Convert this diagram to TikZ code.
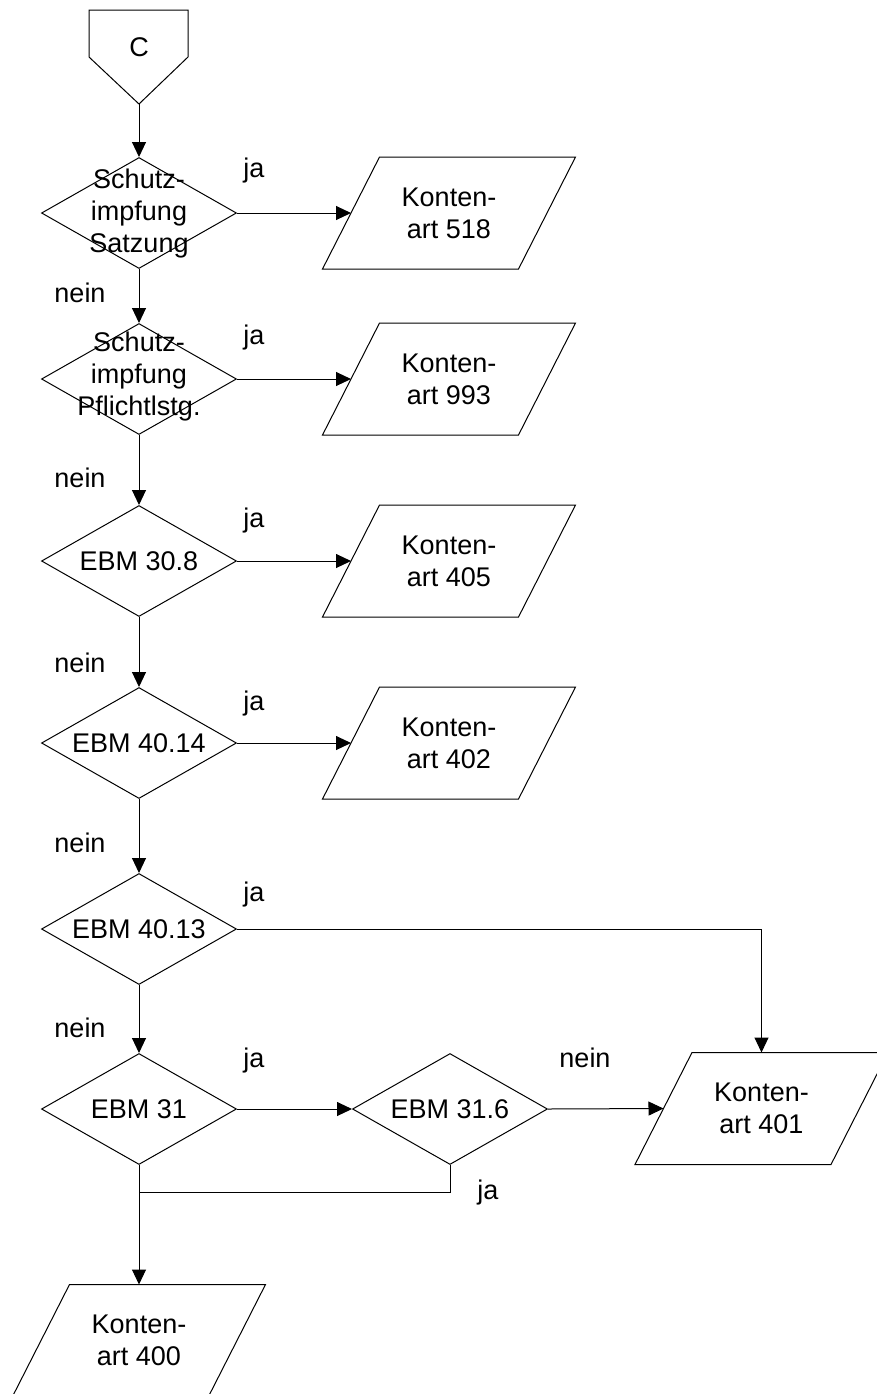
\documentclass[tikz,border=0pt]{standalone}
\usepackage{fontspec}
\setmainfont{Liberation Sans}
\usetikzlibrary{shapes.geometric,arrows.meta}
\begin{document}
\begin{tikzpicture}[x=0.5pt,y=-0.5pt,
  font=\fontsize{13.5pt}{16pt}\selectfont,
  line width=0.5pt,
  dec/.style={draw, diamond, minimum width=97.5pt, minimum height=55.5pt, inner sep=0pt},
  dtext/.style={align=center, inner sep=0pt},
  kbox/.style={minimum width=97.5pt, minimum height=55.5pt, inner sep=0pt, align=center},
  arr/.style={-{Triangle[length=7.5pt,width=7pt]}},
  lbl/.style={anchor=base, inner sep=0pt}]
\useasboundingbox (0,0) rectangle (877,1394);

% connector C
\coordinate (pnw) at (89,10);
\coordinate (pne) at (188,10);
\coordinate (pse) at (188,57);
\coordinate (psw) at (89,57);
\coordinate (cp) at (139,104);
\draw (psw) -- (pnw) -- (pne) -- (pse) -- (cp) -- cycle;
\node[inner sep=0pt] (c) at (139,47) {C};

% decisions
\node[dec] (d1) at (139,213) {};
\node[dtext] (d1t) at (139,214) {Schutz-\\impfung\\Satzung};
\node[dec] (d2) at (139,379) {};
\node[dtext] (d2t) at (139,377) {Schutz-\\impfung\\Pflichtlstg.};
\node[dec] (d3) at (139,561) {};
\node[dtext] (d3t) at (139,561) {EBM 30.8};
\node[dec] (d4) at (139,743) {};
\node[dtext] (d4t) at (139,743) {EBM 40.14};
\node[dec] (d5) at (139,929) {};
\node[dtext] (d5t) at (139,929) {EBM 40.13};
\node[dec] (d6) at (139,1109) {};
\node[dtext] (d6t) at (139,1109) {EBM 31};
\node[dec] (d7) at (450,1109) {};
\node[dtext] (d7t) at (450,1109) {EBM 31.6};

% outputs
\node[kbox] (k1) at (449,213) {Konten-\\art 518};
\node[kbox] (k2) at (449,379) {Konten-\\art 993};
\node[kbox] (k3) at (449,561) {Konten-\\art 405};
\node[kbox] (k4) at (449,743) {Konten-\\art 402};
\node[kbox] (k401) at (761.5,1108.5) {Konten-\\art 401};
\node[kbox] (k400) at (139,1340.5) {Konten-\\art 400};
\foreach \n in {k1,k2,k3,k4,k401,k400}
  \draw ([xshift=14.25pt]\n.north west) -- ([xshift=14.25pt]\n.north east)
     -- ([xshift=-14.25pt]\n.south east) -- ([xshift=-14.25pt]\n.south west) -- cycle;

% connectors
\draw[arr] (cp) -- (d1.north);
\draw[arr] (d1.south) -- (d2.north);
\draw[arr] (d2.south) -- (d3.north);
\draw[arr] (d3.south) -- (d4.north);
\draw[arr] (d4.south) -- (d5.north);
\draw[arr] (d5.south) -- (d6.north);
\draw[arr] (d1.east) -- (k1.west);
\draw[arr] (d2.east) -- (k2.west);
\draw[arr] (d3.east) -- (k3.west);
\draw[arr] (d4.east) -- (k4.west);
\draw[arr] (d5.east) -| (k401.north);
\draw[arr] (d6.east) -- (d7.west);
\draw[arr] (d7.east) -- (k401.west);
\coordinate (j) at (139,1192);
\draw (d7.south) |- (j);
\draw[arr] (d6.south) -- (k400.north);

% labels
\node[lbl] (ja1) at (254,177) {ja};
\node[lbl] (ja2) at (254,344) {ja};
\node[lbl] (ja3) at (254,527) {ja};
\node[lbl] (ja4) at (254,710) {ja};
\node[lbl] (ja5) at (254,901) {ja};
\node[lbl] (ja6) at (254,1067) {ja};
\node[lbl] (ja7) at (488,1199) {ja};
\node[lbl] (n1) at (80,302) {nein};
\node[lbl] (n2) at (80,487) {nein};
\node[lbl] (n3) at (80,672) {nein};
\node[lbl] (n4) at (80,852) {nein};
\node[lbl] (n5) at (80,1037) {nein};
\node[lbl] (n6) at (585,1067) {nein};
\end{tikzpicture}
\end{document}
